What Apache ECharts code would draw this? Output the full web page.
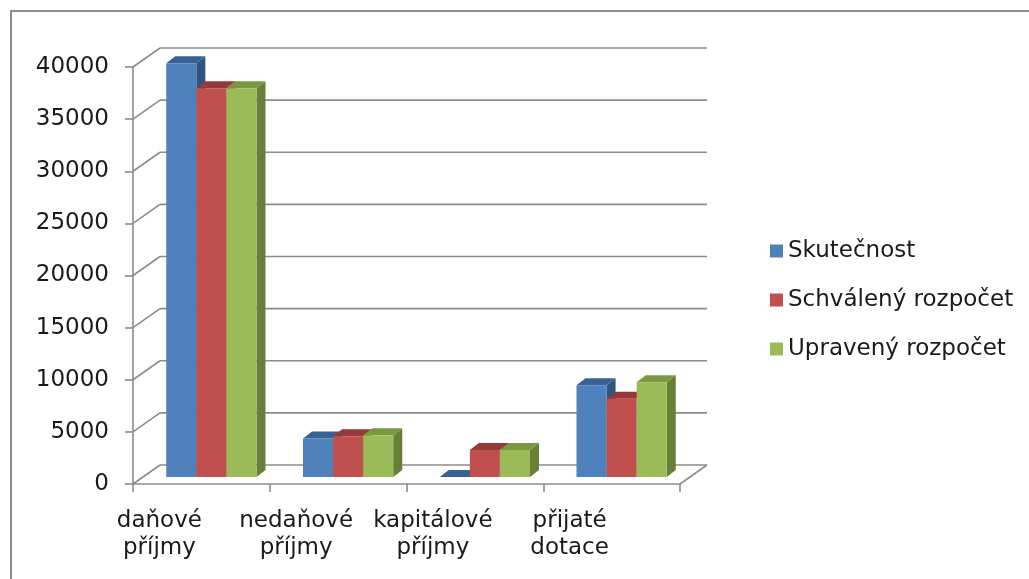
<!DOCTYPE html>
<html>
<head>
<meta charset="utf-8">
<script src="https://cdn.jsdelivr.net/npm/echarts@6/dist/echarts.min.js"></script>
<style>html,body{margin:0;padding:0;background:#fff;overflow:hidden}#c{width:1029px;height:579px}</style>
</head>
<body>
<div id="c"></div>
<script>
var categories = ['daňové\npříjmy', 'nedaňové\npříjmy', 'kapitálové\npříjmy', 'přijaté\ndotace'];
var seriesNames = ['Skutečnost', 'Schválený rozpočet', 'Upravený rozpočet'];
var skutecnost = [39700, 3700, 0, 8800];
var schvaleny = [37300, 3900, 2600, 7500];
var upraveny = [37300, 4000, 2600, 9100];
var yTicks = [0, 5000, 10000, 15000, 20000, 25000, 30000, 35000, 40000];

var FONT = 'DejaVu Sans';
var faces = [
  {front: '#4F81BD', top: '#3A6194', side: '#2F5482'},
  {front: '#C0504D', top: '#953A38', side: '#8E3836'},
  {front: '#9BBB59', top: '#7A9840', side: '#677F37'}
];
var WALL_DX = 27, WALL_DY = -19;   // back wall offset
var PLANE_DX = 10, PLANE_DY = -7;  // bar front plane offset
var BAR_DX = 9, BAR_DY = -7;       // bar depth

function barSeries(idx, values) {
  return {
    type: 'custom',
    name: seriesNames[idx],
    itemStyle: {color: faces[idx].front},
    data: values.map(function (v, i) { return [i, v]; }),
    encode: {x: 0, y: 1},
    z: 10 + idx,
    renderItem: function (params, api) {
      var cat = api.value(0), v = api.value(1);
      var p0 = api.coord([cat, 0]);
      var p1 = api.coord([cat, v]);
      var band = api.size([1, 0])[0];
      var bw = band * 0.22;
      var x0 = p0[0] + (idx - 1.5) * bw + PLANE_DX;
      var yb = p0[1] + PLANE_DY;
      var yt = p1[1] + PLANE_DY;
      var x1 = x0 + bw;
      var f = faces[idx];
      return {
        type: 'group',
        children: [
          {type: 'polygon', shape: {points: [[x1, yt], [x1 + BAR_DX, yt + BAR_DY], [x1 + BAR_DX, yb + BAR_DY], [x1, yb]]}, style: {fill: f.side}},
          {type: 'polygon', shape: {points: [[x0, yt], [x0 + BAR_DX, yt + BAR_DY], [x1 + BAR_DX, yt + BAR_DY], [x1, yt]]}, style: {fill: f.top}},
          {type: 'rect', shape: {x: x0, y: yt, width: bw, height: yb - yt}, style: {fill: f.front}}
        ]
      };
    }
  };
}

var frameSeries = {
  type: 'custom',
  silent: true,
  legendHoverLink: false,
  data: yTicks.map(function (v) { return [0, v]; }),
  encode: {x: 0, y: 1},
  z: 1,
  renderItem: function (params, api) {
    var cs = params.coordSys;
    var v = api.value(1);
    var y = api.coord([0, v])[1];
    var xl = cs.x, xr = cs.x + cs.width;
    var st = {stroke: '#8C8C8C', lineWidth: 1.6};
    var ch = [
      {type: 'line', shape: {x1: xl, y1: y, x2: xl + WALL_DX, y2: y + WALL_DY}, style: st},
      {type: 'line', shape: {x1: xl + WALL_DX, y1: y + WALL_DY, x2: xr + WALL_DX, y2: y + WALL_DY}, style: st}
    ];
    if (v === 0) {
      ch.push({type: 'line', shape: {x1: xr, y1: y, x2: xr + WALL_DX, y2: y + WALL_DY}, style: st});
    }
    return {type: 'group', children: ch};
  }
};

var chart = echarts.init(document.getElementById('c'));
chart.setOption({
  backgroundColor: '#ffffff',
  animation: false,
  graphic: [{
    type: 'polyline', shape: {points: [[11, 600], [11, 11], [1100, 11]]},
    style: {fill: 'none', stroke: '#8C8C8C', lineWidth: 2}, z: 0
  }],
  legend: {
    orient: 'vertical',
    left: 765,
    top: 233,
    itemWidth: 13,
    itemHeight: 13,
    itemGap: 23,
    icon: 'rect',
    data: seriesNames,
    textStyle: {fontFamily: FONT, fontSize: 23, color: '#1a1a1a', lineHeight: 26, padding: [0, 0, 0, 0]}
  },
  grid: {left: 133, right: 349, top: 67, bottom: 95},
  xAxis: {
    type: 'category',
    data: categories,
    axisLine: {show: true, lineStyle: {color: '#8C8C8C', width: 1.6}},
    axisTick: {show: true, length: 8, lineStyle: {color: '#8C8C8C', width: 1.6}},
    axisLabel: {fontFamily: FONT, fontSize: 23, color: '#1a1a1a', lineHeight: 27, margin: 24, interval: 0, padding: [0, 84, 0, 0]}
  },
  yAxis: {
    type: 'value',
    min: 0, max: 40000, interval: 5000,
    axisLine: {show: true, lineStyle: {color: '#8C8C8C', width: 1.6}},
    axisTick: {show: true, length: 8, lineStyle: {color: '#8C8C8C', width: 1.6}},
    splitLine: {show: false},
    axisLabel: {fontFamily: FONT, fontSize: 23, color: '#1a1a1a', margin: 24, formatter: function (v) { return String(v); }}
  },
  series: [frameSeries, barSeries(0, skutecnost), barSeries(1, schvaleny), barSeries(2, upraveny)]
});
</script>
</body>
</html>
